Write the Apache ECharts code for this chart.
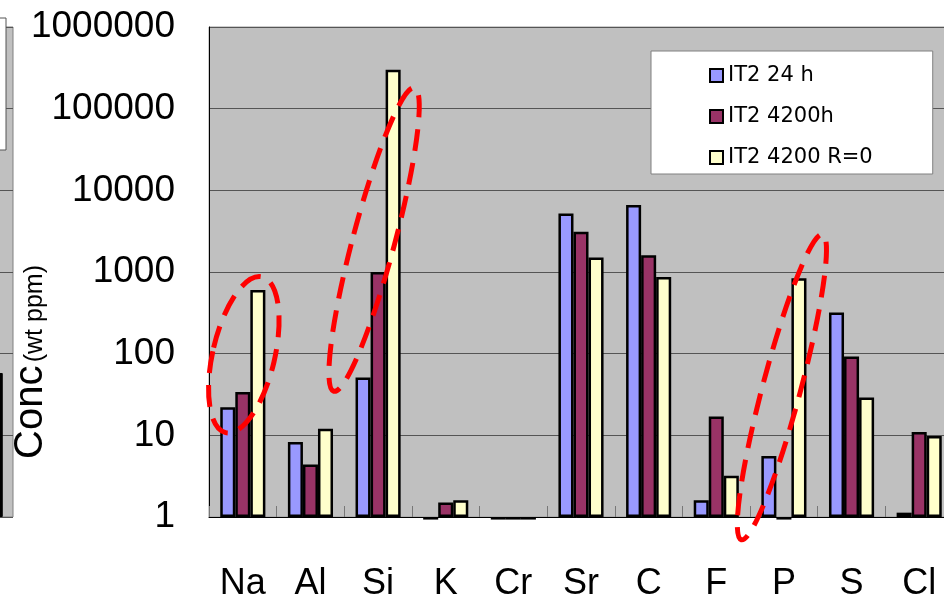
<!DOCTYPE html>
<html>
<head>
<meta charset="utf-8">
<script src="https://cdn.jsdelivr.net/npm/echarts@6/dist/echarts.min.js"></script>
<style>
  html, body { margin: 0; padding: 0; background: #fff; }
  #chart { width: 944px; height: 595px; }
</style>
</head>
<body>
<div id="chart"></div>
<script>
// Element concentrations (wt ppm), log scale
const categories = ['Na', 'Al', 'Si', 'K', 'Cr', 'Sr', 'C', 'F', 'P', 'S', 'Cl'];
const seriesNames = ['IT2 24 h', 'IT2 4200h', 'IT2 4200 R=0'];
const it2_24h    = [22, 8.3, 51, 0.93, 0.93, 5200, 6600, 1.6, 5.6, 320, 1.13];
const it2_4200h  = [34, 4.4, 1000, 1.5, 0.93, 3100, 1600, 17, 0.93, 92, 11];
const it2_4200R0 = [600, 12, 300000, 1.6, 0.93, 1500, 870, 3.2, 840, 29, 9.8];
const yMin = 1;
const yMax = 1000000;

// Edge of the adjacent panel on the left
const neighbourCategories = ['', ''];
const neighbourValues = [null, 58];

// Highlight rings: anchored on a category and a value
const rings = [
  { cat: 'Na', value: 97,   dx: 1,  rx: 31, ry: 80,  rot: -0.23 },
  { cat: 'Si', value: 2500, dx: -4, rx: 21, ry: 157, rot: -0.26 },
  { cat: 'P',  value: 39,   dx: -2, rx: 19, ry: 158, rot: -0.26 }
];

const colors = ['#9999FF', '#993366', '#FFFFCC'];
const values = [it2_24h, it2_4200h, it2_4200R0];

const chart = echarts.init(document.getElementById('chart'), null, { renderer: 'canvas' });

const gridLine = { show: true, lineStyle: { color: '#555555', width: 1 } };

const option = {
  animation: false,
  backgroundColor: '#ffffff',
  textStyle: { fontFamily: 'Liberation Sans, Arial, sans-serif' },
  grid: [
    { left: 209, top: 27, right: -9, bottom: 78, show: true,
      outerBoundsMode: 'none', containLabel: false,
      backgroundColor: '#C0C0C0', borderColor: '#9a9a9a', borderWidth: 1 },
    { left: -60, top: 27, width: 73, height: 490, show: true,
      outerBoundsMode: 'none', containLabel: false,
      backgroundColor: '#C0C0C0', borderColor: '#808080', borderWidth: 1 }
  ],
  legend: {
    orient: 'vertical',
    left: 651, top: 51,
    padding: [14, 60, 6, 58],
    backgroundColor: '#ffffff',
    borderColor: '#808080', borderWidth: 1,
    itemWidth: 13, itemHeight: 13, itemGap: 20,
    icon: 'rect',
    data: seriesNames,
    textStyle: { fontFamily: 'DejaVu Sans', fontSize: 21, color: '#000' }
  },
  xAxis: [
    {
      type: 'category', gridIndex: 0, data: categories,
      axisLine: { show: true, lineStyle: { color: '#000', width: 1 } },
      axisTick: { show: true, inside: true, length: 11, lineStyle: { color: '#777' } },
      axisLabel: { fontSize: 36, color: '#000', margin: 49 },
      splitLine: { show: false }
    },
    {
      type: 'category', gridIndex: 1, data: neighbourCategories,
      axisLine: { show: false }, axisTick: { show: false },
      axisLabel: { show: false }, splitLine: { show: false }
    }
  ],
  yAxis: [
    {
      type: 'log', gridIndex: 0, logBase: 10, min: yMin, max: yMax, splitNumber: 5,
      axisLine: { show: true, lineStyle: { color: '#000', width: 1 } },
      axisTick: { show: false },
      axisLabel: {
        fontSize: 37, color: '#000', margin: 34,
        formatter: v => String(Math.round(v))
      },
      splitLine: gridLine
    },
    {
      type: 'log', gridIndex: 1, logBase: 10, min: yMin, max: yMax, splitNumber: 5,
      axisLine: { show: false }, axisTick: { show: false },
      axisLabel: { show: false },
      splitLine: gridLine
    }
  ],
  series: values.map((data, i) => ({
    name: seriesNames[i],
    type: 'bar',
    xAxisIndex: 0, yAxisIndex: 0,
    data: data,
    clip: false,
    barGap: '0%',
    barCategoryGap: '33.3%',
    itemStyle: { color: colors[i], borderColor: '#000', borderWidth: 2.5 }
  })).concat([{
    type: 'bar',
    xAxisIndex: 1, yAxisIndex: 1,
    data: neighbourValues,
    barWidth: 16,
    itemStyle: { color: '#000', borderColor: '#000', borderWidth: 1 }
  }])
};

chart.setOption(option);

// Axis title and annotation rings, placed once the axes exist
const ringGraphics = rings.map(r => {
  const p = chart.convertToPixel({ xAxisIndex: 0, yAxisIndex: 0 }, [r.cat, r.value]);
  return {
    type: 'ellipse',
    x: p[0] + r.dx, y: p[1],
    rotation: r.rot,
    shape: { cx: 0, cy: 0, rx: r.rx, ry: r.ry },
    style: { fill: null, stroke: '#FF0000', lineWidth: 5, lineDash: [22, 12] },
    z: 100, silent: true
  };
});

chart.setOption({
  graphic: [
    {
      type: 'rect', x: -10, y: 18,
      shape: { width: 16, height: 132 },
      style: { fill: '#ffffff', stroke: '#555', lineWidth: 1 },
      z: 50
    },
    {
      type: 'text', x: 31, y: 362, rotation: Math.PI / 2,
      style: {
        text: '{a|Conc} {b|(wt ppm)}',
        align: 'center', verticalAlign: 'middle',
        fill: '#000',
        rich: {
          a: { fontSize: 40, fontFamily: 'Liberation Sans', verticalAlign: 'bottom', fill: '#000' },
          b: { fontSize: 25, fontFamily: 'Liberation Sans', verticalAlign: 'bottom', fill: '#000', padding: [0, 0, 3, 0] }
        }
      },
      z: 50
    }
  ].concat(ringGraphics)
});
</script>
</body>
</html>
